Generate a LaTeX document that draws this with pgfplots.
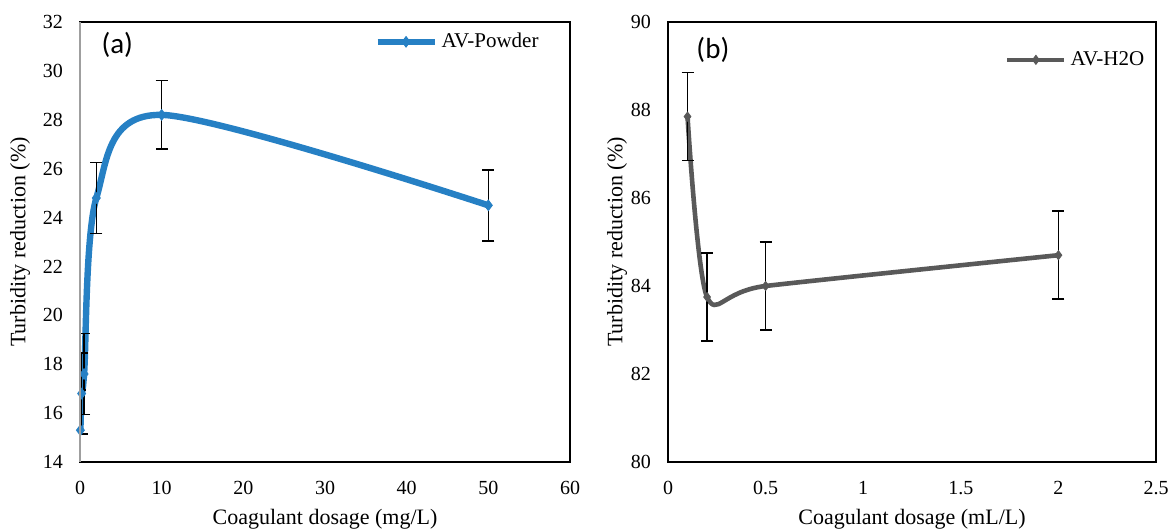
\documentclass[border=0pt]{standalone}
\usepackage{pgfplots}
\pgfplotsset{compat=1.18}
\usepackage{fontspec}
\setmainfont{Liberation Serif}
\newfontfamily\calfont{Carlito}
\definecolor{avblue}{RGB}{38,128,196}
\definecolor{avgray}{RGB}{89,89,89}
\begin{document}
\begin{tikzpicture}
\pgfplotsset{
  common/.style={
    scale only axis,
    anchor=south west,
    height=220pt,
    axis line style={black, line width=1pt},
    major tick length=0pt,
    /pgf/number format/assume math mode=true,
    tick label style={font=\fontsize{10}{12}\selectfont},
    yticklabel style={xshift=-5pt},
    xticklabel style={yshift=-6pt},
    label style={font=\fontsize{11}{13}\selectfont},
    xlabel style={at={(axis description cs:0.5,0)}, anchor=center, yshift=-28.5pt},
    clip mode=individual,
    legend style={draw=none, fill=none, font=\fontsize{10.5}{12}\selectfont, inner sep=0pt, legend cell align=left},
    legend image code/.code={\draw[mark repeat=2,mark phase=2] plot coordinates {(0cm,0cm)(0.5cm,0cm)(1cm,0cm)};},
    error bars/y dir=both, error bars/y explicit,
    error bars/error bar style={black, line width=0.75pt},
    error bars/error mark options={black, mark size=3pt, line width=0.75pt, rotate=90},
  }
}
\begin{axis}[common,
  at={(40pt,33.5pt)}, width=245pt,
  xmin=0, xmax=60, ymin=14, ymax=32,
  xtick={0,10,...,60}, ytick={14,16,...,32},
  xlabel={Coagulant dosage (mg/L)},
  ylabel={Turbidity reduction (\%)},
  ylabel style={at={([xshift=-30pt]axis description cs:0,0.5)}, anchor=center},
  legend style={at={(axis description cs:0.6,0.955)}, anchor=west},
]
\addplot[avblue, line width=3.2pt, smooth, mark=diamond*, mark size=2.6pt, mark options={line width=0.5pt}]
  coordinates {(0.05,15.3) +- (0,1.65) (0.2,16.8) +- (0,1.65) (0.5,17.6) +- (0,1.65) (2,24.8) +- (0,1.45) (10,28.2) +- (0,1.4) (50,24.5) +- (0,1.45)};
\addlegendentry{AV-Powder}
\draw[gray!75, line width=1.2pt] (rel axis cs:0,0) -- (rel axis cs:0,1);
\node[font=\calfont\fontsize{14.5}{16}\selectfont] at (rel axis cs:0.076,0.948) {(a)};
\end{axis}
\begin{axis}[common,
  at={(334pt,33.5pt)}, width=244pt,
  xmin=0, xmax=2.5, ymin=80, ymax=90,
  xtick={0,0.5,...,2.5}, ytick={80,82,...,90},
  xticklabel style={/pgf/number format/.cd, fixed, precision=1},
  xlabel={Coagulant dosage (mL/L)},
  ylabel={Turbidity reduction (\%)},
  ylabel style={at={([xshift=-25.5pt]axis description cs:0,0.5)}, anchor=center},
  legend style={at={(axis description cs:0.69,0.914)}, anchor=west},
]
\addplot[avgray, line width=2.3pt, smooth, tension=0.45, mark=diamond*, mark size=2.2pt, mark options={line width=0.5pt}]
  coordinates {(0.1,87.85) +- (0,1) (0.2,83.75) +- (0,1) (0.5,84.0) +- (0,1) (2,84.7) +- (0,1)};
\addlegendentry{AV-H2O}
\node[font=\calfont\fontsize{14.5}{16}\selectfont] at (rel axis cs:0.092,0.936) {(b)};
\end{axis}
\pgfresetboundingbox
\path (0,0) rectangle (585pt,264.5pt);
\end{tikzpicture}
\end{document}
